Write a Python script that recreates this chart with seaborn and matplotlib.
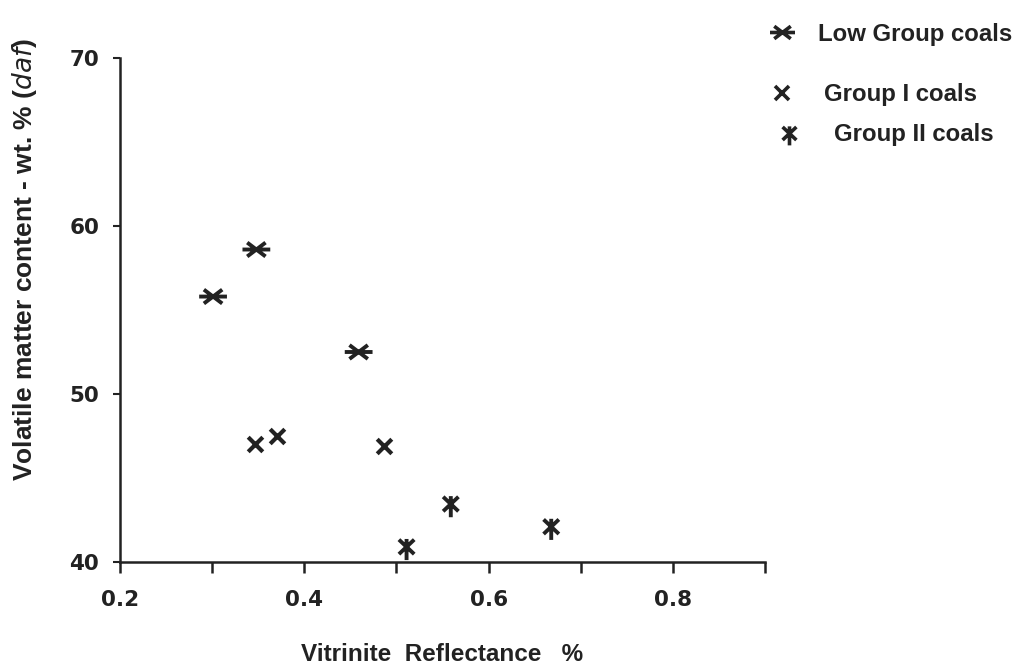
import numpy as np
import pandas as pd
import matplotlib
matplotlib.use("Agg")
import matplotlib.pyplot as plt
from matplotlib.path import Path
from matplotlib.markers import MarkerStyle
from matplotlib.lines import Line2D
import seaborn as sns

# ---- data ----
low_x = [0.301, 0.348, 0.459]
low_y = [55.8, 58.6, 52.5]
g1_x = [0.347, 0.370, 0.487]
g1_y = [47.0, 47.5, 46.9]
g2_x = [0.511, 0.559, 0.668]
g2_y = [40.9, 43.45, 42.1]
series_labels = ["Low Group coals", "Group I coals", "Group II coals"]
xticks = [0.2, 0.3, 0.4, 0.5, 0.6, 0.7, 0.8, 0.9]
xticklabels = ["0.2", "", "0.4", "", "0.6", "", "0.8", ""]
yticks = [40, 50, 60, 70]
yticklabels = ["40", "50", "60", "70"]
xlabel = "Vitrinite  Reflectance   %"
ylabel = "Volatile matter content - wt. % ($\\mathit{daf}$)"

sns.set_theme(style="white")
plt.rcParams["font.family"] = ["Liberation Sans", "DejaVu Sans"]

INK = "#222222"

M, L = Path.MOVETO, Path.LINETO
low_path = Path([(-1, 0), (1, 0), (-0.66, -0.5), (0.66, 0.5), (-0.66, 0.5), (0.66, -0.5)],
                [M, L, M, L, M, L])
g2_path = Path([(0, 0.6), (0, -1.0), (-0.58, -0.55), (0.58, 0.55), (-0.58, 0.55), (0.58, -0.55)],
               [M, L, M, L, M, L])
low_marker = MarkerStyle(low_path, fillstyle="none")
g2_marker = MarkerStyle(g2_path, fillstyle="none")
g1_marker = MarkerStyle("x")

fig = plt.figure(figsize=(10.19, 6.72), dpi=100)
ax = fig.add_axes([120 / 1019, 1 - 562 / 672, 645 / 1019, 504 / 672])

df_low = pd.DataFrame({"x": low_x, "y": low_y})
df_g1 = pd.DataFrame({"x": g1_x, "y": g1_y})
df_g2 = pd.DataFrame({"x": g2_x, "y": g2_y})

sns.scatterplot(data=df_low, x="x", y="y", marker=low_marker, s=20 ** 2,
                color=INK, linewidth=2.8, ax=ax, legend=False, clip_on=False)
sns.scatterplot(data=df_g1, x="x", y="y", marker=g1_marker, s=10.5 ** 2,
                color=INK, linewidth=3.0, ax=ax, legend=False, clip_on=False)
sns.scatterplot(data=df_g2, x="x", y="y", marker=g2_marker, s=19 ** 2,
                color=INK, linewidth=2.8, ax=ax, legend=False, clip_on=False)

ax.set_xlim(0.2, 0.9)
ax.set_ylim(40, 70)
ax.set_xticks(xticks)
ax.set_xticklabels(xticklabels)
ax.set_yticks(yticks)
ax.set_yticklabels(yticklabels)

for s in ["top", "right"]:
    ax.spines[s].set_visible(False)
for s in ["left", "bottom"]:
    ax.spines[s].set_color(INK)
    ax.spines[s].set_linewidth(1.8)

ax.tick_params(axis="x", direction="out", length=8, width=1.8, color=INK, pad=12,
               bottom=True)
ax.tick_params(axis="y", direction="out", length=5, width=1.5, color=INK, pad=10,
               left=True)
for lab in ax.get_xticklabels() + ax.get_yticklabels():
    lab.set_fontfamily("DejaVu Sans")
    lab.set_fontweight("bold")
    lab.set_fontsize(15.5)
    lab.set_color(INK)

ax.set_xlabel(xlabel, fontsize=17.5, fontweight="bold", color=INK, labelpad=24)
ax.set_ylabel(ylabel, fontsize=19, fontweight="bold", color=INK)
ax.yaxis.set_label_coords(-0.125, 0.6)

# legend, one entry per row at its own position
legend_pos = [(770, 34, 24), (770, 95, 30), (777, 135, 33)]
markers = [low_marker, g1_marker, g2_marker]
sizes = [20, 10.5, 19]
for (lx, ly, pad), mk, ms, lab in zip(legend_pos, markers, sizes, series_labels):
    h = Line2D([], [], linestyle="none", marker=mk, markersize=ms * 0.9,
               markeredgecolor=INK, markerfacecolor="none", markeredgewidth=2.6)
    fig.legend(handles=[h], labels=[lab], loc="center left",
               bbox_to_anchor=(lx / 1019, 1 - ly / 672), frameon=False,
               borderpad=0, borderaxespad=0, handlelength=1.0,
               handletextpad=pad / 24,
               prop={"family": "Liberation Sans", "weight": "bold", "size": 17.3},
               labelcolor=INK)

fig.savefig("out.png", dpi=100)
